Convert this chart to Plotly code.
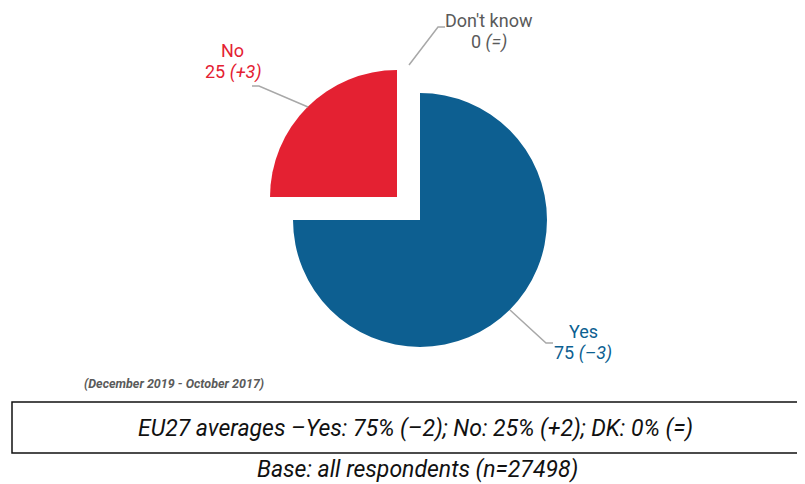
import plotly.graph_objects as go

labels = ['Yes', 'No', "Don't know"]
values = [75, 25, 0]
changes = ['–3', '+3', '=']
eu_text = 'EU27 averages –Yes: 75% (–2); No: 25% (+2); DK: 0% (=)'
base_text = 'Base: all respondents (n=27498)'
period_text = '(December 2019 - October 2017)'

blue = '#0d5f91'
red = '#e42132'
grey = '#5a5a5a'
line_grey = '#a8a8a8'
W, H = 805, 484
OFF = 8  # page body margin
font = 'Roboto'


def px(x):
    return (x - OFF) / W


def py(y):
    return 1 - (y - OFF) / H


fig = go.Figure()

fig.add_trace(go.Pie(
    labels=labels, values=values, sort=False, direction='clockwise', rotation=0,
    marker=dict(colors=[blue, red, '#9b9b9b'], line=dict(width=0)),
    pull=[0, 0.256, 0], textinfo='none', hoverinfo='label+value',
    domain=dict(x=[px(260.5), px(579.5)], y=[py(379.5), py(60.5)]),
    showlegend=False,
))

# labels and leader lines
lab = [
    (labels[0], values[0], changes[0], blue, 583, 331, [(510, 310), (546, 343), (553, 343)]),
    (labels[1], values[1], changes[1], red, 233, 50, [(308, 107), (259, 86), (252, 86)]),
    (labels[2], values[2], changes[2], grey, 489, 20, [(409, 65), (438, 27), (445, 27)]),
]
ann = []
shapes = []
for name, v, ch, col, x, y, pts in lab:
    ann.append(dict(x=px(x), y=py(y), xref='paper', yref='paper', showarrow=False,
                    xanchor='center', yanchor='middle',
                    text=name, font=dict(size=18, color=col, family=font)))
    ann.append(dict(x=px(x), y=py(y + 22), xref='paper', yref='paper', showarrow=False,
                    xanchor='center', yanchor='middle',
                    text='%d <i>(%s)</i>' % (v, ch), font=dict(size=18, color=col, family=font)))
    path = 'M ' + ' L '.join('%f,%f' % (px(a), py(b)) for a, b in pts)
    shapes.append(dict(type='path', path=path, xref='paper', yref='paper',
                       line=dict(color=line_grey, width=1.5)))

ann.append(dict(x=px(82), y=py(383), xref='paper', yref='paper', showarrow=False,
                xanchor='left', yanchor='middle',
                text='<b><i>' + period_text + '</i></b>', font=dict(size=12.5, color=grey, family=font)))
ann.append(dict(x=px(415), y=py(428), xref='paper', yref='paper', showarrow=False,
                xanchor='center', yanchor='middle',
                text='<i>' + eu_text + '</i>', font=dict(size=23, color='#111', family=font)))
ann.append(dict(x=px(418), y=py(469), xref='paper', yref='paper', showarrow=False,
                xanchor='center', yanchor='middle',
                text='<i>' + base_text + '</i>', font=dict(size=23, color='#111', family=font)))
shapes.append(dict(type='rect', xref='paper', yref='paper', x0=px(12), x1=px(820),
                   y0=py(453), y1=py(402), line=dict(color='#111', width=1.5)))

fig.update_layout(
    width=W, height=H, margin=dict(l=0, r=0, t=0, b=0),
    paper_bgcolor='white', plot_bgcolor='white',
    annotations=ann, shapes=shapes,
)

fig.write_html('out.html')
